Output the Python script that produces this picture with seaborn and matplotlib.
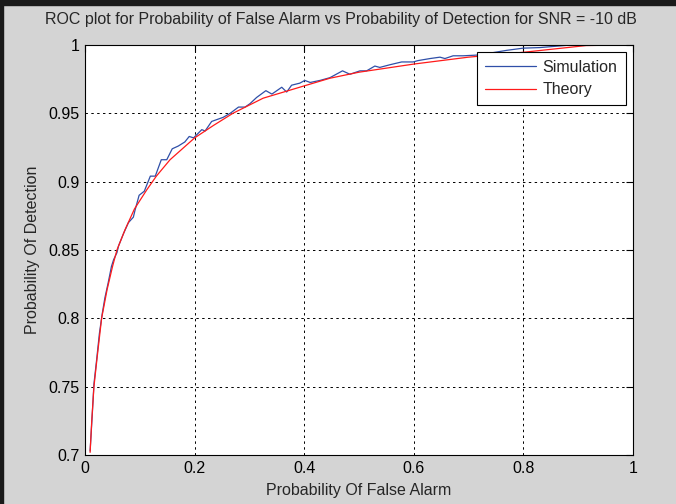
import matplotlib
matplotlib.use("Agg")
import matplotlib.pyplot as plt
from matplotlib.patches import Rectangle
from matplotlib.ticker import FuncFormatter
import pandas as pd
import seaborn as sns

# simulated ROC
sim_pfa = [0.009, 0.013, 0.016, 0.021, 0.026, 0.031, 0.036, 0.042, 0.048, 0.052,
           0.058, 0.061, 0.070, 0.079, 0.088, 0.091, 0.0985, 0.108, 0.119, 0.128,
           0.139, 0.149, 0.159, 0.170, 0.182, 0.190, 0.198, 0.213, 0.219, 0.231,
           0.252, 0.265, 0.280, 0.292, 0.301, 0.313, 0.330, 0.341, 0.359, 0.368,
           0.377, 0.392, 0.401, 0.411, 0.429, 0.447, 0.470, 0.4835, 0.502, 0.514,
           0.529, 0.538, 0.557, 0.578, 0.599, 0.608, 0.630, 0.648, 0.657, 0.672,
           0.690, 0.715, 0.740, 0.770, 0.800, 0.830, 0.860, 0.890, 0.930, 0.967]
sim_pd = [0.703, 0.730, 0.752, 0.770, 0.789, 0.803, 0.815, 0.826, 0.838, 0.843,
          0.848, 0.853, 0.862, 0.870, 0.874, 0.879, 0.890, 0.893, 0.904, 0.904,
          0.916, 0.916, 0.924, 0.926, 0.929, 0.933, 0.932, 0.938, 0.937, 0.944,
          0.947, 0.950, 0.9545, 0.9545, 0.957, 0.9615, 0.9665, 0.964, 0.969, 0.9655,
          0.9705, 0.972, 0.974, 0.9725, 0.974, 0.976, 0.981, 0.9785, 0.981, 0.981,
          0.9845, 0.9835, 0.9855, 0.9875, 0.9875, 0.9885, 0.990, 0.991, 0.990, 0.992,
          0.992, 0.9925, 0.994, 0.996, 0.9976, 0.998, 0.999, 1.0, 1.0, 1.0]

# theoretical ROC
th_pfa = [0.009, 0.012, 0.016, 0.022, 0.030, 0.040, 0.050, 0.058, 0.073, 0.090,
          0.1125, 0.130, 0.155, 0.200, 0.234, 0.270, 0.325, 0.400, 0.447, 0.500,
          0.601, 0.700, 0.801, 0.915, 1.0]
th_pd = [0.702, 0.725, 0.750, 0.772, 0.800, 0.821, 0.838, 0.850, 0.865, 0.880,
         0.894, 0.904, 0.916, 0.932, 0.941, 0.950, 0.961, 0.970, 0.9756, 0.980,
         0.986, 0.991, 0.9946, 0.9995, 1.0]

x_ticks = [0, 0.2, 0.4, 0.6, 0.8, 1]
y_ticks = [0.7, 0.75, 0.8, 0.85, 0.9, 0.95, 1]

sns.set_style("white")
plt.rcParams["font.family"] = ["Liberation Sans", "DejaVu Sans"]
fs = 11.5

fig = plt.figure(figsize=(6.76, 5.04), dpi=100, facecolor="#d4d4d4")
ax = fig.add_axes([0.126, 0.097, 0.810, 0.814])
ax.set_facecolor("white")

sim = pd.DataFrame({"pfa": sim_pfa, "pd": sim_pd})
th = pd.DataFrame({"pfa": th_pfa, "pd": th_pd})

sns.lineplot(data=sim, x="pfa", y="pd", color="#2f4fa8", linewidth=0.9,
             label="Simulation", ax=ax, sort=False)
sns.lineplot(data=th, x="pfa", y="pd", color="#ff1a1a", linewidth=0.9,
             label="Theory", ax=ax, sort=False)

ax.set_xlim(0, 1)
ax.set_ylim(0.7, 1)
ax.set_xticks(x_ticks)
ax.set_yticks(y_ticks)
ax.xaxis.set_major_formatter(FuncFormatter(lambda v, p: "%g" % v))
ax.yaxis.set_major_formatter(FuncFormatter(lambda v, p: "%g" % v))
ax.tick_params(direction="in", length=5, width=0.8, colors="black",
               labelsize=fs, top=True, right=True, pad=4)
ax.grid(True, color="black", linestyle=(0, (2.5, 3.5)), linewidth=0.7)

for s in ax.spines.values():
    s.set_color("black")
    s.set_linewidth(0.8)
    s.set_visible(True)

ax.set_title("ROC plot for Probability of False Alarm vs Probability of Detection for SNR = -10 dB",
             fontsize=fs, pad=15, x=0.467)
ax.set_xlabel("Probability Of False Alarm", fontsize=fs, labelpad=5)
ax.set_ylabel("Probability Of Detection", fontsize=fs, labelpad=6)

leg = ax.legend(loc="upper right", fancybox=False, framealpha=1,
                edgecolor="black", fontsize=fs, handlelength=3.2,
                handletextpad=0.4, borderaxespad=0.45, borderpad=0.5,
                labelspacing=0.45)
leg.get_frame().set_linewidth(0.8)

# dark screenshot border on top and left
fig.patches.append(Rectangle((0, 0.991), 1, 0.009, transform=fig.transFigure,
                             color="#1a1a1a", zorder=0))
fig.patches.append(Rectangle((0, 0), 0.005, 1, transform=fig.transFigure,
                             color="#1a1a1a", zorder=0))

fig.savefig("out.png", dpi=100, facecolor=fig.get_facecolor())
